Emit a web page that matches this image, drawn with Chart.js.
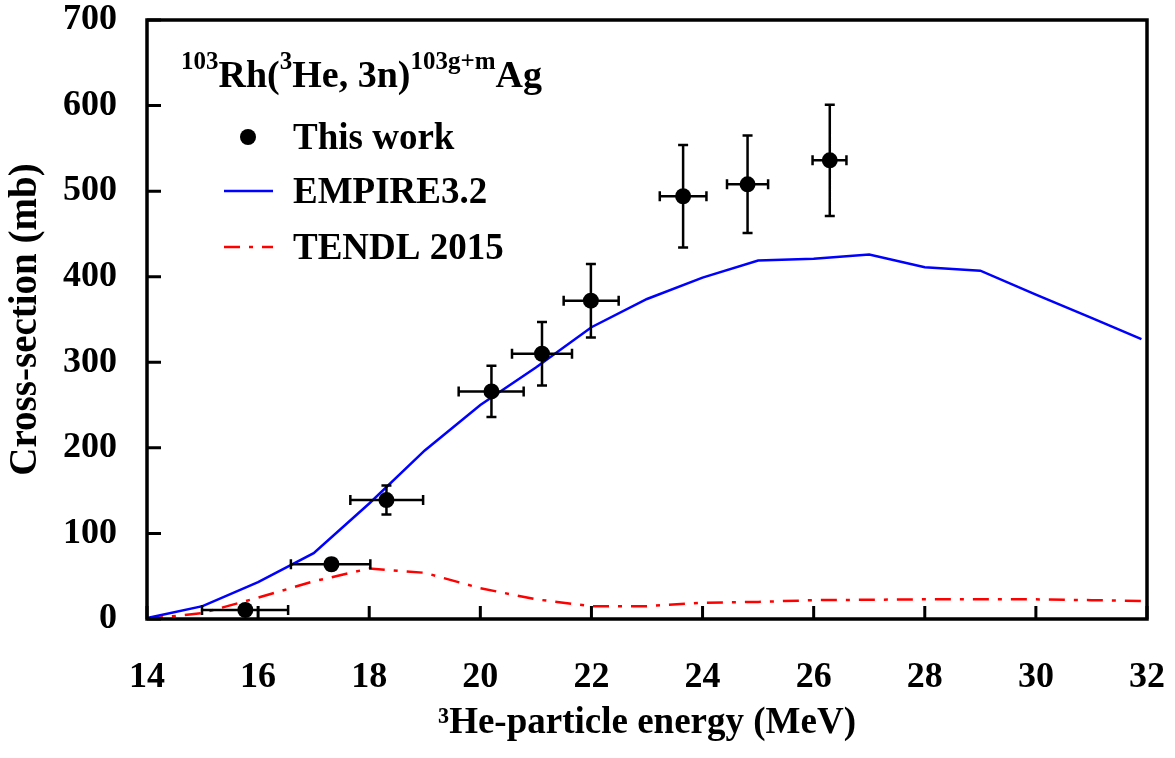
<!DOCTYPE html>
<html><head><meta charset="utf-8">
<script src="https://cdn.jsdelivr.net/npm/chart.js@4/dist/chart.umd.min.js"></script>
<style>html,body{margin:0;padding:0;background:#fff;}</style>
</head><body>
<canvas id="c" width="1175" height="758"></canvas>
<script>
// ---- data ----
const expEnergy      = [15.77, 17.32, 18.31, 20.20, 21.11, 21.99, 23.65, 24.81, 26.29];
const expEnergyLow   = [14.99, 16.59, 17.66, 19.61, 20.57, 21.50, 23.23, 24.44, 25.98];
const expEnergyHigh  = [16.54, 18.02, 18.97, 20.78, 21.65, 22.49, 24.07, 25.18, 26.59];
const expCross       = [10.5, 64, 139, 266, 310, 372, 494, 508, 536];
const expCrossErr    = [3, 6, 17, 30, 37, 43, 60, 57, 65];
const empireEnergy   = [14, 15, 16, 17, 18, 19, 20, 21, 22, 23, 24, 25, 26, 27, 28, 29, 30, 31, 31.9];
const empireCross    = [1, 15, 43, 77, 135, 197, 250, 294, 341, 374, 399, 419, 421, 426, 411, 407, 379, 352, 327];
const tendlEnergy    = [14, 15, 16, 17, 18, 19, 20, 21, 22, 23, 24, 25, 26, 27, 28, 29, 30, 31, 32];
const tendlCross     = [0, 7, 25, 44, 59, 54, 36, 23, 15, 15, 19, 20, 22, 22.5, 23, 23, 23, 22, 21];
const xTickValues    = [14, 16, 18, 20, 22, 24, 26, 28, 30, 32];
const yTickValues    = [0, 100, 200, 300, 400, 500, 600, 700];
const seriesNames    = ['This work', 'EMPIRE3.2', 'TENDL 2015'];
const xTitle = '\u00B3He-particle energy (MeV)';
const yTitle = 'Cross-section (mb)';
const reactionParts = [['103', true], ['Rh(', false], ['3', true], ['He, 3n)', false], ['103g+m', true], ['Ag', false]];

const FONT = '"Liberation Serif", "Times New Roman", serif';

const pts = (xs, ys) => xs.map((x, i) => ({x: x, y: ys[i]}));

const errorBars = {
  id: 'errorBars',
  beforeDatasetDraw(chart, args) {
    if (args.index !== 0) return;
    const {ctx, scales: {x, y}} = chart;
    ctx.save();
    ctx.strokeStyle = '#000';
    ctx.lineWidth = 2.5;
    const cap = 5;
    ctx.beginPath();
    expEnergy.forEach((e, i) => {
      const px = x.getPixelForValue(e), py = y.getPixelForValue(expCross[i]);
      const xl = x.getPixelForValue(expEnergyLow[i]), xh = x.getPixelForValue(expEnergyHigh[i]);
      const yl = y.getPixelForValue(expCross[i] - expCrossErr[i]), yh = y.getPixelForValue(expCross[i] + expCrossErr[i]);
      ctx.moveTo(xl, py); ctx.lineTo(xh, py);
      ctx.moveTo(xl, py - cap); ctx.lineTo(xl, py + cap);
      ctx.moveTo(xh, py - cap); ctx.lineTo(xh, py + cap);
      ctx.moveTo(px, yl); ctx.lineTo(px, yh);
      ctx.moveTo(px - cap, yl); ctx.lineTo(px + cap, yl);
      ctx.moveTo(px - cap, yh); ctx.lineTo(px + cap, yh);
    });
    ctx.stroke();
    ctx.restore();
  }
};

const frameTicks = {
  id: 'frameTicks',
  afterDatasetsDraw(chart) {
    const {ctx, chartArea: a, scales: {x, y}} = chart;
    ctx.save();
    ctx.strokeStyle = '#000';
    ctx.lineWidth = 3;
    ctx.beginPath();
    x.ticks.forEach(t => { const p = x.getPixelForValue(t.value); ctx.moveTo(p, a.bottom); ctx.lineTo(p, a.bottom - 13); });
    y.ticks.forEach(t => { const p = y.getPixelForValue(t.value); ctx.moveTo(a.left, p); ctx.lineTo(a.left + 14, p); });
    ctx.stroke();
    ctx.lineWidth = 3.5;
    ctx.strokeRect(a.left, a.top, a.right - a.left, a.bottom - a.top);
    ctx.restore();
  }
};

const legendAndLabel = {
  id: 'legendAndLabel',
  afterDraw(chart) {
    const {ctx} = chart;
    const ds = chart.data.datasets;
    ctx.save();
    ctx.fillStyle = '#000';
    // reaction label
    let xPos = 181;
    const base = 87;
    ctx.textBaseline = 'alphabetic';
    ctx.textAlign = 'left';
    reactionParts.forEach(([t, sup]) => {
      ctx.font = sup ? 'bold 25px ' + FONT : 'bold 38px ' + FONT;
      ctx.fillText(t, xPos, sup ? base - 18 : base);
      xPos += ctx.measureText(t).width;
    });
    // legend
    const rows = [137, 191, 247];
    const textX = 293;
    ctx.font = 'bold 37px ' + FONT;
    ctx.textBaseline = 'middle';
    ctx.beginPath();
    ctx.fillStyle = ds[0].backgroundColor;
    ctx.arc(248, rows[0], ds[0].pointRadius, 0, Math.PI * 2);
    ctx.fill();
    ctx.fillStyle = '#000';
    ctx.fillText(ds[0].label, textX, rows[0] + 2);
    [1, 2].forEach((k, j) => {
      ctx.save();
      ctx.strokeStyle = ds[k].borderColor;
      ctx.lineWidth = ds[k].borderWidth;
      ctx.setLineDash(ds[k].borderDash || []);
      ctx.beginPath();
      ctx.moveTo(224, rows[j + 1]);
      ctx.lineTo(273, rows[j + 1]);
      ctx.stroke();
      ctx.restore();
      ctx.fillText(ds[k].label, textX, rows[j + 1] + 2);
    });
    ctx.restore();
  }
};

new Chart(document.getElementById('c'), {
  type: 'scatter',
  data: {
    datasets: [
      {label: seriesNames[0], data: pts(expEnergy, expCross), backgroundColor: '#000', borderColor: '#000',
       pointRadius: 8, pointBorderWidth: 0, showLine: false},
      {label: seriesNames[1], data: pts(empireEnergy, empireCross), borderColor: '#0000ff', borderWidth: 2.5,
       pointRadius: 0, showLine: true, tension: 0, fill: false},
      {label: seriesNames[2], data: pts(tendlEnergy, tendlCross), borderColor: '#ff0000', borderWidth: 2.5,
       borderDash: [16, 9, 4, 9], pointRadius: 0, showLine: true, tension: 0, fill: false}
    ]
  },
  options: {
    responsive: false,
    devicePixelRatio: 1,
    animation: false,
    layout: {autoPadding: false, padding: {top: 20, right: 28, bottom: 0, left: 0}},
    plugins: {legend: {display: false}, tooltip: {enabled: false}},
    scales: {
      x: {
        type: 'linear', min: 14, max: 32,
        afterBuildTicks: s => { s.ticks = xTickValues.map(v => ({value: v})); },
        afterFit: s => { s.height = 139; s.paddingLeft = 0; s.paddingRight = 0; },
        grid: {display: false, drawTicks: false},
        border: {display: false},
        ticks: {padding: 41, color: '#000', font: {family: FONT, size: 36, weight: 'bold', lineHeight: 1.0}, maxRotation: 0},
        title: {display: true, text: xTitle, color: '#000', padding: {top: 0, bottom: 12},
                font: {family: FONT, size: 37, weight: 'bold', lineHeight: 1.2}}
      },
      y: {
        type: 'linear', min: 0, max: 700,
        afterBuildTicks: s => { s.ticks = yTickValues.map(v => ({value: v})); },
        afterFit: s => { s.width = 147; s.paddingTop = 0; s.paddingBottom = 0; },
        grid: {display: false, drawTicks: false},
        border: {display: false},
        ticks: {padding: 30, color: '#000', font: {family: FONT, size: 36, weight: 'bold', lineHeight: 1.0}},
        title: {display: true, text: yTitle, color: '#000', padding: {top: 3, bottom: 0},
                font: {family: FONT, size: 39, weight: 'bold', lineHeight: 1.2}}
      }
    }
  },
  plugins: [errorBars, frameTicks, legendAndLabel]
});
</script>
</body></html>
